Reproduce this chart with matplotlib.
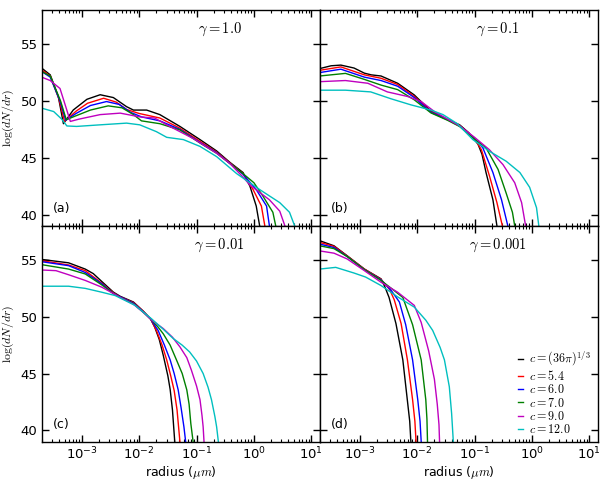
import numpy as np
import matplotlib
matplotlib.use("Agg")
import matplotlib.pyplot as plt

plt.rcParams['mathtext.fontset'] = 'cm'
plt.rcParams['font.family'] = ['DejaVu Sans']

# ---- data: log10(radius / um) and log(dN/dr) ----
labels = [r'$c=(36\pi)^{1/3}$', r'$c=5.4$', r'$c=6.0$', r'$c=7.0$', r'$c=9.0$', r'$c=12.0$']
colors = ['k', 'r', 'b', 'g', 'm', 'c']
gammas = [r'$\gamma=1.0$', r'$\gamma=0.1$', r'$\gamma=0.01$', r'$\gamma=0.001$']
panel_tags = ['(a)', '(b)', '(c)', '(d)']

# panel (a): gamma = 1.0
a_black_logr = [-3.70, -3.55, -3.41, -3.32, -3.15, -2.91, -2.68, -2.45, -2.22, -2.10, -1.87, -1.64, -1.29, -0.94, -0.65, -0.42, -0.19, -0.07, 0.04, 0.10]
a_black_val = [52.9, 52.3, 50.4, 48.0, 49.2, 50.15, 50.55, 50.3, 49.5, 49.2, 49.2, 48.8, 47.76, 46.6, 45.6, 44.6, 43.7, 42.5, 40.75, 39.0]
a_red_logr = [-3.70, -3.55, -3.40, -3.30, -3.10, -2.90, -2.62, -2.40, -2.22, -2.00, -1.64, -1.29, -0.94, -0.65, -0.42, -0.19, -0.015, 0.13, 0.19]
a_red_val = [52.75, 52.2, 50.2, 48.2, 49.1, 49.8, 50.24, 49.9, 49.25, 48.9, 48.5, 47.6, 46.45, 45.5, 44.55, 43.6, 42.2, 40.75, 39.0]
a_blue_logr = [-3.70, -3.55, -3.38, -3.28, -3.10, -2.85, -2.57, -2.35, -2.15, -1.96, -1.64, -1.29, -0.94, -0.65, -0.42, -0.19, 0.04, 0.22, 0.27]
a_blue_val = [52.6, 52.1, 50.0, 48.3, 48.9, 49.6, 49.95, 49.7, 49.0, 48.6, 48.25, 47.5, 46.35, 45.45, 44.5, 43.55, 42.2, 40.75, 39.0]
a_green_logr = [-3.70, -3.55, -3.37, -3.27, -3.10, -2.85, -2.54, -2.30, -2.10, -1.96, -1.64, -1.29, -0.94, -0.65, -0.42, -0.19, 0.00, 0.16, 0.33, 0.38]
a_green_val = [52.6, 52.2, 50.0, 48.35, 48.7, 49.2, 49.57, 49.4, 48.8, 48.25, 48.0, 47.45, 46.3, 45.4, 44.5, 43.6, 42.8, 41.6, 40.2, 39.0]
a_magenta_logr = [-3.70, -3.55, -3.38, -3.28, -3.20, -3.05, -2.68, -2.33, -1.99, -1.73, -1.52, -1.06, -0.65, -0.42, -0.19, -0.07, 0.27, 0.45, 0.54]
a_magenta_val = [52.1, 51.8, 51.1, 49.5, 48.2, 48.4, 48.8, 48.93, 48.6, 48.5, 47.9, 46.7, 45.4, 44.5, 43.3, 42.6, 41.3, 40.3, 39.0]
a_cyan_logr = [-3.70, -3.49, -3.35, -3.26, -3.09, -2.68, -2.22, -1.99, -1.70, -1.52, -1.23, -0.94, -0.65, -0.30, 0.10, 0.45, 0.62, 0.71]
a_cyan_val = [49.37, 49.07, 48.4, 47.8, 47.76, 47.9, 48.05, 47.9, 47.3, 46.8, 46.6, 46.0, 45.1, 43.6, 42.2, 41.05, 40.2, 39.0]

# panel (b): gamma = 0.1
b_black_logr = [-3.70, -3.50, -3.33, -3.10, -2.92, -2.80, -2.63, -2.34, -2.05, -1.76, -1.47, -1.26, -1.10, -0.94, -0.87, -0.80, -0.68, -0.61]
b_black_val = [52.85, 53.1, 53.16, 52.9, 52.45, 52.3, 52.2, 51.56, 50.53, 49.1, 48.35, 47.9, 47.2, 46.2, 45.3, 43.7, 41.3, 39.0]
b_red_logr = [-3.70, -3.33, -2.92, -2.63, -2.34, -2.05, -1.76, -1.47, -1.26, -1.00, -0.88, -0.74, -0.61, -0.515]
b_red_val = [52.7, 53.0, 52.3, 52.0, 51.45, 50.4, 49.05, 48.35, 47.85, 46.7, 45.7, 43.4, 41.05, 39.0]
b_blue_logr = [-3.70, -3.33, -2.92, -2.63, -2.34, -2.05, -1.76, -1.47, -1.26, -1.00, -0.855, -0.68, -0.53, -0.42]
b_blue_val = [52.5, 52.8, 52.1, 51.8, 51.3, 50.3, 49.0, 48.35, 47.8, 46.7, 45.87, 43.7, 41.3, 39.0]
b_green_logr = [-3.70, -3.25, -2.92, -2.63, -2.34, -2.05, -1.76, -1.47, -1.26, -1.00, -0.80, -0.59, -0.45, -0.34, -0.30]
b_green_val = [52.2, 52.43, 51.9, 51.4, 51.0, 50.1, 48.95, 48.3, 47.75, 46.65, 45.87, 43.97, 41.9, 40.2, 39.0]
b_magenta_logr = [-3.70, -3.25, -2.86, -2.52, -2.17, -1.93, -1.70, -1.47, -1.26, -1.00, -0.74, -0.505, -0.30, -0.18, -0.11]
b_magenta_val = [51.7, 51.8, 51.56, 50.8, 50.4, 49.95, 49.07, 48.4, 47.8, 46.8, 45.7, 44.4, 42.8, 41.05, 39.0]
b_cyan_logr = [-3.70, -3.25, -2.81, -2.46, -2.11, -1.76, -1.55, -1.30, -1.03, -0.74, -0.45, -0.21, -0.04, 0.08, 0.12]
b_cyan_val = [50.95, 50.95, 50.8, 50.2, 49.66, 49.2, 48.8, 48.0, 46.6, 45.57, 44.7, 43.7, 42.4, 40.6, 39.0]

# panel (c): gamma = 0.01
c_black_logr = [-3.70, -3.23, -2.94, -2.80, -2.65, -2.45, -2.33, -2.10, -1.93, -1.80, -1.73, -1.65, -1.58, -1.50, -1.46, -1.42, -1.38]
c_black_val = [55.05, 54.75, 54.2, 53.8, 53.1, 52.17, 51.8, 51.3, 50.5, 49.8, 49.1, 48.0, 46.6, 44.8, 43.6, 41.8, 39.0]
c_red_logr = [-3.70, -3.23, -2.94, -2.65, -2.45, -2.33, -2.10, -1.93, -1.80, -1.70, -1.60, -1.52, -1.45, -1.39, -1.34, -1.29]
c_red_val = [54.94, 54.56, 54.06, 52.95, 52.1, 51.75, 51.25, 50.5, 49.8, 48.8, 47.5, 46.2, 44.8, 43.5, 41.8, 39.0]
c_blue_logr = [-3.70, -3.23, -2.94, -2.65, -2.45, -2.33, -2.10, -1.93, -1.80, -1.67, -1.56, -1.46, -1.39, -1.32, -1.27, -1.22, -1.19]
c_blue_val = [54.85, 54.5, 53.9, 52.9, 52.05, 51.75, 51.2, 50.45, 49.8, 48.8, 47.5, 46.2, 45.0, 43.56, 42.0, 40.3, 39.0]
c_green_logr = [-3.70, -3.23, -2.94, -2.65, -2.45, -2.33, -2.10, -1.93, -1.80, -1.68, -1.58, -1.46, -1.35, -1.25, -1.17, -1.13, -1.10, -1.06]
c_green_val = [54.59, 54.2, 53.77, 52.8, 52.05, 51.7, 51.15, 50.4, 49.8, 49.15, 48.5, 47.5, 46.2, 45.0, 43.56, 42.3, 40.6, 39.0]
c_magenta_logr = [-3.70, -3.45, -3.23, -2.94, -2.65, -2.45, -2.33, -2.10, -1.93, -1.78, -1.58, -1.42, -1.29, -1.17, -1.09, -1.00, -0.94, -0.905, -0.885, -0.87]
c_magenta_val = [54.12, 54.06, 53.7, 53.2, 52.6, 52.05, 51.7, 51.1, 50.4, 49.7, 48.96, 48.2, 47.35, 46.4, 45.3, 43.9, 42.7, 41.3, 40.3, 39.0]
c_cyan_logr = [-3.70, -3.23, -2.94, -2.65, -2.42, -2.07, -1.78, -1.58, -1.41, -1.25, -1.12, -1.00, -0.885, -0.80, -0.74, -0.68, -0.65, -0.62]
c_cyan_val = [52.69, 52.69, 52.5, 52.16, 51.87, 51.0, 49.8, 48.9, 48.1, 47.5, 46.9, 46.1, 45.0, 43.8, 42.7, 41.2, 40.3, 39.0]

# panel (d): gamma = 0.001
d_black_logr = [-3.70, -3.45, -3.22, -2.92, -2.63, -2.56, -2.49, -2.37, -2.25, -2.17, -2.13, -2.11]
d_black_val = [56.7, 56.25, 55.37, 54.2, 53.34, 52.6, 51.7, 49.4, 46.2, 42.6, 40.8, 39.0]
d_red_logr = [-3.70, -3.45, -3.22, -2.92, -2.63, -2.48, -2.40, -2.28, -2.17, -2.08, -2.04, -2.02]
d_red_val = [56.55, 56.2, 55.35, 54.2, 53.3, 52.4, 51.5, 49.4, 46.2, 42.7, 40.8, 39.0]
d_blue_logr = [-3.70, -3.45, -3.22, -2.92, -2.63, -2.45, -2.31, -2.20, -2.08, -1.99, -1.95, -1.93]
d_blue_val = [56.4, 56.1, 55.3, 54.15, 53.25, 52.3, 51.3, 49.3, 46.2, 42.7, 40.8, 39.0]
d_green_logr = [-3.70, -3.45, -3.22, -2.92, -2.63, -2.45, -2.25, -2.08, -1.93, -1.85, -1.83, -1.82]
d_green_val = [56.25, 56.0, 55.3, 54.15, 53.2, 52.5, 51.7, 49.3, 46.2, 42.7, 41.0, 39.0]
d_magenta_logr = [-3.70, -3.45, -3.22, -2.92, -2.63, -2.34, -2.05, -1.93, -1.80, -1.70, -1.65, -1.62, -1.61]
d_magenta_val = [55.8, 55.6, 55.09, 54.06, 53.04, 52.16, 51.0, 49.5, 47.0, 44.5, 42.3, 40.5, 39.0]
d_cyan_logr = [-3.70, -3.42, -3.10, -2.90, -2.63, -2.34, -2.05, -1.85, -1.73, -1.60, -1.525, -1.44, -1.40, -1.37]
d_cyan_val = [54.2, 54.35, 53.85, 53.5, 52.75, 51.75, 50.85, 49.7, 48.8, 47.3, 46.2, 43.84, 41.5, 39.0]

panels = [
    [(a_black_logr, a_black_val), (a_red_logr, a_red_val), (a_blue_logr, a_blue_val),
     (a_green_logr, a_green_val), (a_magenta_logr, a_magenta_val), (a_cyan_logr, a_cyan_val)],
    [(b_black_logr, b_black_val), (b_red_logr, b_red_val), (b_blue_logr, b_blue_val),
     (b_green_logr, b_green_val), (b_magenta_logr, b_magenta_val), (b_cyan_logr, b_cyan_val)],
    [(c_black_logr, c_black_val), (c_red_logr, c_red_val), (c_blue_logr, c_blue_val),
     (c_green_logr, c_green_val), (c_magenta_logr, c_magenta_val), (c_cyan_logr, c_cyan_val)],
    [(d_black_logr, d_black_val), (d_red_logr, d_red_val), (d_blue_logr, d_blue_val),
     (d_green_logr, d_green_val), (d_magenta_logr, d_magenta_val), (d_cyan_logr, d_cyan_val)],
]

fig, axes = plt.subplots(2, 2, figsize=(6.06, 4.82), dpi=100, sharex=True, sharey=True)
fig.subplots_adjust(left=0.0688, right=0.9863, top=0.979, bottom=0.0836, hspace=0, wspace=0)

for k, ax in enumerate(axes.flat):
    for (lr, val), col, lab in zip(panels[k], colors, labels):
        ax.plot(10 ** np.array(lr), val, color=col, lw=1.0, label=lab)
    ax.set_xscale('log')
    ax.set_xlim(2e-4, 14)
    ax.set_ylim(39, 58)
    ax.set_yticks([40, 45, 50, 55])
    ax.tick_params(which='both', direction='in', top=True, right=True, labelsize=9.5, pad=3)
    ax.tick_params(which='major', length=5, width=1)
    ax.tick_params(which='minor', length=2.5, width=0.8)
    ax.text(0.64, 0.91, gammas[k], transform=ax.transAxes, ha='center', va='center', fontsize=10.5)
    ax.text(0.04, 0.08, panel_tags[k], transform=ax.transAxes, ha='left', va='center', fontsize=9)
    for s in ax.spines.values():
        s.set_linewidth(1.0)

for ax in axes[:, 0]:
    ax.set_ylabel(r'$\log(dN/dr)$', fontsize=8.5, labelpad=3)
for ax in axes[1, :]:
    ax.set_xlabel(r'radius ($\mu m$)', fontsize=9, labelpad=1)

axes[1, 1].legend(loc='lower right', bbox_to_anchor=(1.02, -0.03), frameon=False,
                  handlelength=0.45, handletextpad=0.5, labelspacing=0.02, fontsize=8.7,
                  borderaxespad=0.6)

fig.savefig('out.png', dpi=100)
